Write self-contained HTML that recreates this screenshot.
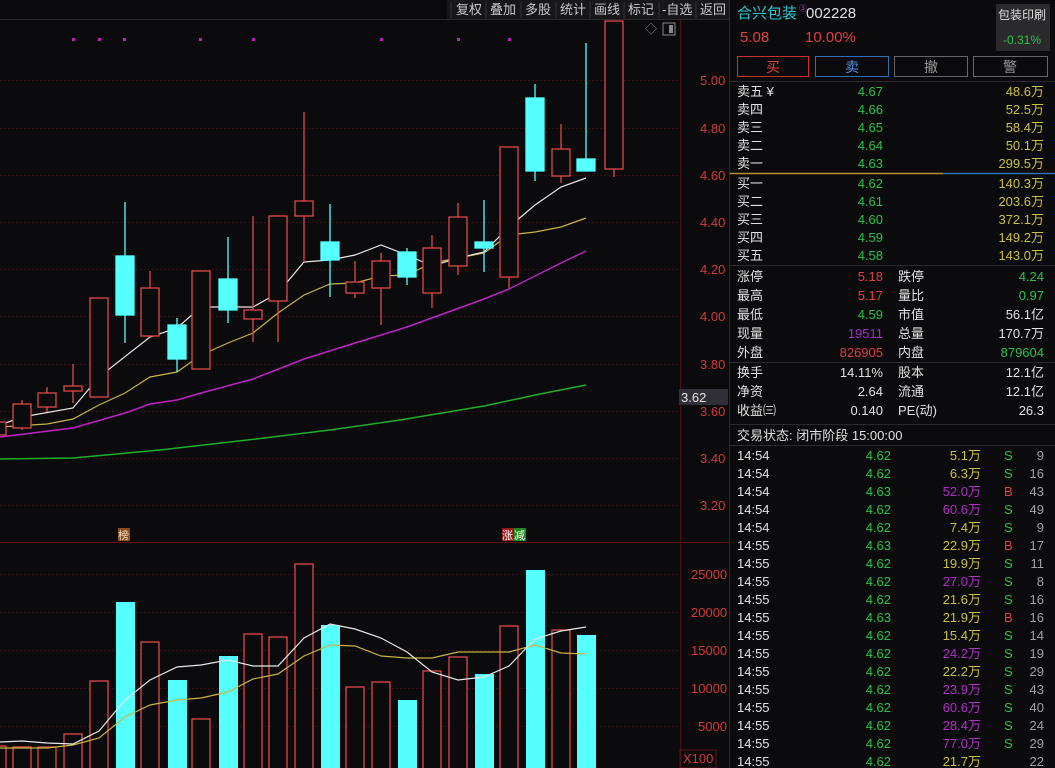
<!DOCTYPE html>
<html><head><meta charset="utf-8"><style>
html,body{margin:0;padding:0;background:#0b0b0d;}
svg{display:block;font-family:"Liberation Sans","Noto Sans CJK SC",sans-serif;}
</style></head><body>
<svg width="1055" height="768" viewBox="0 0 1055 768" xmlns="http://www.w3.org/2000/svg">
<rect width="1055" height="768" fill="#0b0b0d"/>
<!-- toolbar -->
<rect x="447" y="0" width="283" height="19" fill="#17171a"/>
<line x1="0" y1="19.5" x2="730" y2="19.5" stroke="#2a2a2e"/>
<g font-size="13" fill="#c8c8c8">
<text x="456" y="14">复权</text><text x="490" y="14">叠加</text><text x="525" y="14">多股</text><text x="560" y="14">统计</text><text x="594" y="14">画线</text><text x="628" y="14">标记</text><text x="662" y="14">-自选</text><text x="700" y="14">返回</text>
</g>
<g stroke="#333" stroke-width="1"><line x1="451" y1="2" x2="451" y2="18"/><line x1="486" y1="2" x2="486" y2="18"/><line x1="521" y1="2" x2="521" y2="18"/><line x1="556" y1="2" x2="556" y2="18"/><line x1="590" y1="2" x2="590" y2="18"/><line x1="624" y1="2" x2="624" y2="18"/><line x1="659" y1="2" x2="659" y2="18"/><line x1="696" y1="2" x2="696" y2="18"/></g>
<!-- grid -->
<g stroke="#3a0d0f" stroke-width="1" stroke-dasharray="2,2">
<line x1="0" y1="80.5" x2="680" y2="80.5"/><line x1="0" y1="128.5" x2="680" y2="128.5"/><line x1="0" y1="175.5" x2="680" y2="175.5"/><line x1="0" y1="222.5" x2="680" y2="222.5"/><line x1="0" y1="269.5" x2="680" y2="269.5"/><line x1="0" y1="316.5" x2="680" y2="316.5"/><line x1="0" y1="364.5" x2="680" y2="364.5"/><line x1="0" y1="411.5" x2="680" y2="411.5"/><line x1="0" y1="458.5" x2="680" y2="458.5"/><line x1="0" y1="505.5" x2="680" y2="505.5"/>
<line x1="0" y1="574.5" x2="680" y2="574.5"/><line x1="0" y1="612.5" x2="680" y2="612.5"/><line x1="0" y1="650.5" x2="680" y2="650.5"/><line x1="0" y1="688.5" x2="680" y2="688.5"/><line x1="0" y1="726.5" x2="680" y2="726.5"/>
</g>
<line x1="680.5" y1="20" x2="680.5" y2="768" stroke="#4a1215"/>
<line x1="0" y1="542.5" x2="730" y2="542.5" stroke="#5a1518"/>
<line x1="729.5" y1="0" x2="729.5" y2="768" stroke="#2a2a2e"/>
<!-- price labels -->
<g font-size="13" fill="#d23a3a">
<text x="700" y="85">5.00</text><text x="700" y="133">4.80</text><text x="700" y="180">4.60</text><text x="700" y="227">4.40</text><text x="700" y="274">4.20</text><text x="700" y="321">4.00</text><text x="700" y="369">3.80</text><text x="700" y="416">3.60</text><text x="700" y="463">3.40</text><text x="700" y="510">3.20</text>
<text x="691" y="579">25000</text><text x="691" y="617">20000</text><text x="691" y="655">15000</text><text x="691" y="693">10000</text><text x="698" y="731">5000</text><text x="683" y="763">X100</text>
</g>
<rect x="680" y="750" width="36" height="18" fill="none" stroke="#5a1518"/>
<rect x="679" y="389" width="49" height="16" fill="#2f2f35"/>
<text x="681" y="402" font-size="13" fill="#e8e8e8">3.62</text>
<!-- icons -->
<text x="645" y="33" font-size="12" fill="#888">◇</text>
<rect x="663" y="23" width="12" height="12" fill="none" stroke="#888"/><rect x="669" y="25" width="4" height="8" fill="#888"/>
<!-- magenta dots -->
<g fill="#c020c0"><rect x="72" y="38" width="3" height="3"/><rect x="98" y="38" width="3" height="3"/><rect x="123" y="38" width="3" height="3"/><rect x="199" y="38" width="3" height="3"/><rect x="252" y="38" width="3" height="3"/><rect x="380" y="38" width="3" height="3"/><rect x="457" y="38" width="3" height="3"/><rect x="508" y="38" width="3" height="3"/></g>
<!-- MA lines -->
<polyline fill="none" stroke="#1fae2a" stroke-width="1.5" points="0,459 73,458 160,450 256,439 330,430 400,420 484,406 540,394 586,385"/>
<polyline fill="none" stroke="#c020c8" stroke-width="1.5" points="0,437 73,428 125,413 150,404 177,400 201,393 253,379 304,359 355,343 407,327 484,299 509,289 561,263 586,251"/>
<polyline fill="none" stroke="#c8b440" stroke-width="1.2" points="0,427 47,424 73,419 99,405 125,393 150,377 177,372 201,355 228,343 253,333 278,313 304,295 330,284 355,283 381,276 407,275 432,263 458,258 484,253 509,235 535,232 561,227 586,218"/>
<polyline fill="none" stroke="#e8e8e8" stroke-width="1.2" points="0,425 22,417 73,408 99,377 150,337 177,328 201,307 253,307 278,293 304,262 330,260 355,255 381,245 407,255 432,266 458,258 484,252 509,227 535,205 561,187 586,178"/>
<!-- candles -->
<g stroke="#e04848" stroke-width="1.3" fill="#0b0b0d">
<rect x="-6" y="422" width="12" height="13"/>
<line x1="22" y1="400" x2="22" y2="430"/><rect x="13" y="404" width="18" height="24"/>
<line x1="47" y1="387" x2="47" y2="412"/><rect x="38" y="393" width="18" height="14"/>
<line x1="73" y1="364" x2="73" y2="403"/><rect x="64" y="386" width="18" height="5"/>
<rect x="90" y="298" width="18" height="99"/>
<line x1="150" y1="271" x2="150" y2="337"/><rect x="141" y="288" width="18" height="48"/>
<rect x="192" y="271" width="18" height="98"/>
<line x1="253" y1="216" x2="253" y2="342"/><rect x="244" y="310" width="18" height="9"/>
<line x1="278" y1="216" x2="278" y2="342"/><rect x="269" y="216" width="18" height="85"/>
<line x1="304" y1="112" x2="304" y2="262"/><rect x="295" y="201" width="18" height="15"/>
<line x1="355" y1="261" x2="355" y2="298"/><rect x="346" y="282" width="18" height="11"/>
<line x1="381" y1="253" x2="381" y2="325"/><rect x="372" y="261" width="18" height="27"/>
<line x1="432" y1="235" x2="432" y2="308"/><rect x="423" y="248" width="18" height="45"/>
<line x1="458" y1="203" x2="458" y2="275"/><rect x="449" y="217" width="18" height="49"/>
<line x1="509" y1="147" x2="509" y2="288"/><rect x="500" y="147" width="18" height="130"/>
<line x1="561" y1="124" x2="561" y2="183"/><rect x="552" y="149" width="18" height="27"/>
<line x1="614" y1="169" x2="614" y2="177"/><rect x="605" y="21" width="18" height="148"/>
</g>
<g fill="#55ffff" stroke="#55ffff" stroke-width="1.3">
<line x1="125" y1="202" x2="125" y2="343"/><rect x="116" y="256" width="18" height="59"/>
<line x1="177" y1="318" x2="177" y2="372"/><rect x="168" y="325" width="18" height="34"/>
<line x1="228" y1="237" x2="228" y2="323"/><rect x="219" y="279" width="18" height="31"/>
<line x1="330" y1="204" x2="330" y2="297"/><rect x="321" y="242" width="18" height="18"/>
<line x1="407" y1="248" x2="407" y2="285"/><rect x="398" y="252" width="18" height="25"/>
<line x1="484" y1="200" x2="484" y2="272"/><rect x="475" y="242" width="18" height="6"/>
<line x1="535" y1="84" x2="535" y2="181"/><rect x="526" y="98" width="18" height="73"/>
<line x1="586" y1="43" x2="586" y2="171"/><rect x="577" y="159" width="18" height="12"/>
</g>
<!-- tags -->
<rect x="118" y="528" width="12" height="13" fill="#8a4a1a"/><text x="118" y="539" font-size="11" fill="#f0e0c0">榜</text>
<rect x="502" y="528" width="12" height="13" fill="#9a1a1a"/><text x="502" y="539" font-size="11" fill="#fff">涨</text>
<rect x="514" y="528" width="12" height="13" fill="#1a8a1a"/><text x="514" y="539" font-size="11" fill="#fff">减</text>
<!-- volume -->
<g stroke="#e04848" stroke-width="1.3" fill="#0b0b0d">
<rect x="-6" y="746" width="12" height="30"/>
<rect x="13" y="747" width="18" height="30"/>
<rect x="38" y="747" width="18" height="30"/>
<rect x="64" y="734" width="18" height="40"/>
<rect x="90" y="681" width="18" height="90"/>
<rect x="141" y="642" width="18" height="130"/>
<rect x="192" y="719" width="18" height="60"/>
<rect x="244" y="634" width="18" height="140"/>
<rect x="269" y="637" width="18" height="140"/>
<rect x="295" y="564" width="18" height="210"/>
<rect x="346" y="687" width="18" height="90"/>
<rect x="372" y="682" width="18" height="90"/>
<rect x="423" y="671" width="18" height="100"/>
<rect x="449" y="657" width="18" height="120"/>
<rect x="500" y="626" width="18" height="150"/>
<rect x="552" y="630" width="18" height="150"/>
</g>
<g fill="#55ffff">
<rect x="116" y="602" width="19" height="170"/>
<rect x="168" y="680" width="19" height="90"/>
<rect x="219" y="656" width="19" height="120"/>
<rect x="321" y="625" width="19" height="150"/>
<rect x="398" y="700" width="19" height="70"/>
<rect x="475" y="674" width="19" height="100"/>
<rect x="526" y="570" width="19" height="200"/>
<rect x="577" y="635" width="19" height="140"/>
</g>
<polyline fill="none" stroke="#c8b440" stroke-width="1.2" points="0,748 47,748 73,745 99,738 125,717 150,705 177,700 201,698 228,692 253,679 278,674 304,656 330,645 355,646 381,656 407,658 432,658 458,652 484,652 509,652 535,645 561,653 586,654"/>
<polyline fill="none" stroke="#e8e8e8" stroke-width="1.2" points="0,742 22,741 47,743 73,744 99,731 125,700 150,680 177,667 201,665 228,660 253,666 278,666 304,638 330,624 355,629 381,638 407,652 432,672 458,680 484,677 509,666 535,639 561,631 586,627"/>
<!-- right panel -->
<text x="737" y="18" font-size="15" fill="#2ec8d0">合兴包装</text>
<text x="799" y="11" font-size="8" fill="#a040d0">③</text>
<text x="806" y="18" font-size="15" fill="#e0e0e0">002228</text>
<text x="740" y="42" font-size="15" fill="#e04040">5.08</text>
<text x="805" y="42" font-size="15" fill="#e04040">10.00%</text>
<rect x="996" y="4" width="54" height="47" fill="#2a2a2c"/>
<text x="998" y="19" font-size="12" fill="#e0e0e0">包装印刷</text>
<text x="1003" y="44" font-size="12" fill="#2ec04a">-0.31%</text>
<rect x="737.5" y="56.5" width="71" height="20" fill="none" stroke="#c83030"/><text x="766" y="72" font-size="14" fill="#e04040">买</text>
<rect x="815.5" y="56.5" width="73" height="20" fill="none" stroke="#3070b0"/><text x="845" y="72" font-size="14" fill="#4a90e0">卖</text>
<rect x="894.5" y="56.5" width="73" height="20" fill="none" stroke="#666"/><text x="924" y="72" font-size="14" fill="#999">撤</text>
<rect x="973.5" y="56.5" width="74" height="20" fill="none" stroke="#666"/><text x="1003" y="72" font-size="14" fill="#999">警</text>
<line x1="730" y1="81.5" x2="1055" y2="81.5" stroke="#2a2a2e"/>
<line x1="730" y1="173.5" x2="943" y2="173.5" stroke="#b89030" stroke-width="1.5"/>
<line x1="943" y1="173.5" x2="1055" y2="173.5" stroke="#3070b0" stroke-width="1.5"/>
<line x1="730" y1="265.5" x2="1055" y2="265.5" stroke="#2a2a2e"/>
<line x1="730" y1="362.5" x2="1055" y2="362.5" stroke="#2a2a2e"/>
<line x1="730" y1="424.5" x2="1055" y2="424.5" stroke="#2a2a2e"/>
<line x1="730" y1="445.5" x2="1055" y2="445.5" stroke="#2a2a2e"/>
<g font-size="13">
<g fill="#e0e0e0"><text x="737" y="96">卖五 ¥</text><text x="737" y="114">卖四</text><text x="737" y="132">卖三</text><text x="737" y="150">卖二</text><text x="737" y="168">卖一</text>
<text x="737" y="188">买一</text><text x="737" y="206">买二</text><text x="737" y="224">买三</text><text x="737" y="242">买四</text><text x="737" y="260">买五</text></g>
<g fill="#2ec04a" text-anchor="end"><text x="883" y="96">4.67</text><text x="883" y="114">4.66</text><text x="883" y="132">4.65</text><text x="883" y="150">4.64</text><text x="883" y="168">4.63</text>
<text x="883" y="188">4.62</text><text x="883" y="206">4.61</text><text x="883" y="224">4.60</text><text x="883" y="242">4.59</text><text x="883" y="260">4.58</text></g>
<g fill="#c8c040" text-anchor="end"><text x="1044" y="96">48.6万</text><text x="1044" y="114">52.5万</text><text x="1044" y="132">58.4万</text><text x="1044" y="150">50.1万</text><text x="1044" y="168">299.5万</text>
<text x="1044" y="188">140.3万</text><text x="1044" y="206">203.6万</text><text x="1044" y="224">372.1万</text><text x="1044" y="242">149.2万</text><text x="1044" y="260">143.0万</text></g>
<g fill="#e0e0e0"><text x="737" y="281">涨停</text><text x="737" y="300">最高</text><text x="737" y="319">最低</text><text x="737" y="338">现量</text><text x="737" y="357">外盘</text>
<text x="898" y="281">跌停</text><text x="898" y="300">量比</text><text x="898" y="319">市值</text><text x="898" y="338">总量</text><text x="898" y="357">内盘</text>
<text x="737" y="377">换手</text><text x="737" y="396">净资</text><text x="737" y="415">收益㈢</text><text x="898" y="377">股本</text><text x="898" y="396">流通</text><text x="898" y="415">PE(动)</text>
<text x="737" y="440">交易状态: 闭市阶段 15:00:00</text></g>
<g text-anchor="end"><text x="883" y="281" fill="#e04040">5.18</text><text x="883" y="300" fill="#e04040">5.17</text><text x="883" y="319" fill="#2ec04a">4.59</text><text x="883" y="338" fill="#a030c0">19511</text><text x="883" y="357" fill="#e04040">826905</text>
<text x="1044" y="281" fill="#2ec04a">4.24</text><text x="1044" y="300" fill="#2ec04a">0.97</text><text x="1044" y="319" fill="#e0e0e0">56.1亿</text><text x="1044" y="338" fill="#e0e0e0">170.7万</text><text x="1044" y="357" fill="#2ec04a">879604</text>
<g fill="#e0e0e0"><text x="883" y="377">14.11%</text><text x="883" y="396">2.64</text><text x="883" y="415">0.140</text><text x="1044" y="377">12.1亿</text><text x="1044" y="396">12.1亿</text><text x="1044" y="415">26.3</text></g></g>
</g>
<g font-size="13" id="trades">
<g fill="#e0e0e0"><text x="737" y="460">14:54</text><text x="737" y="478">14:54</text><text x="737" y="496">14:54</text><text x="737" y="514">14:54</text><text x="737" y="532">14:54</text><text x="737" y="550">14:55</text><text x="737" y="568">14:55</text><text x="737" y="586">14:55</text><text x="737" y="604">14:55</text><text x="737" y="622">14:55</text><text x="737" y="640">14:55</text><text x="737" y="658">14:55</text><text x="737" y="676">14:55</text><text x="737" y="694">14:55</text><text x="737" y="712">14:55</text><text x="737" y="730">14:55</text><text x="737" y="748">14:55</text><text x="737" y="766">14:55</text></g>
<g fill="#2ec04a" text-anchor="end"><text x="891" y="460">4.62</text><text x="891" y="478">4.62</text><text x="891" y="496">4.63</text><text x="891" y="514">4.62</text><text x="891" y="532">4.62</text><text x="891" y="550">4.63</text><text x="891" y="568">4.62</text><text x="891" y="586">4.62</text><text x="891" y="604">4.62</text><text x="891" y="622">4.63</text><text x="891" y="640">4.62</text><text x="891" y="658">4.62</text><text x="891" y="676">4.62</text><text x="891" y="694">4.62</text><text x="891" y="712">4.62</text><text x="891" y="730">4.62</text><text x="891" y="748">4.62</text><text x="891" y="766">4.62</text></g>
<g text-anchor="end"><text x="981" y="460" fill="#c8c040">5.1万</text><text x="981" y="478" fill="#c8c040">6.3万</text><text x="981" y="496" fill="#b030c8">52.0万</text><text x="981" y="514" fill="#b030c8">60.6万</text><text x="981" y="532" fill="#c8c040">7.4万</text><text x="981" y="550" fill="#c8c040">22.9万</text><text x="981" y="568" fill="#c8c040">19.9万</text><text x="981" y="586" fill="#b030c8">27.0万</text><text x="981" y="604" fill="#c8c040">21.6万</text><text x="981" y="622" fill="#c8c040">21.9万</text><text x="981" y="640" fill="#c8c040">15.4万</text><text x="981" y="658" fill="#b030c8">24.2万</text><text x="981" y="676" fill="#c8c040">22.2万</text><text x="981" y="694" fill="#b030c8">23.9万</text><text x="981" y="712" fill="#b030c8">60.6万</text><text x="981" y="730" fill="#b030c8">28.4万</text><text x="981" y="748" fill="#b030c8">77.0万</text><text x="981" y="766" fill="#c8c040">21.7万</text></g>
<g fill="#2ec04a"><text x="1004" y="460">S</text><text x="1004" y="478">S</text><text x="1004" y="496" fill="#e04040">B</text><text x="1004" y="514">S</text><text x="1004" y="532">S</text><text x="1004" y="550" fill="#e04040">B</text><text x="1004" y="568">S</text><text x="1004" y="586">S</text><text x="1004" y="604">S</text><text x="1004" y="622" fill="#e04040">B</text><text x="1004" y="640">S</text><text x="1004" y="658">S</text><text x="1004" y="676">S</text><text x="1004" y="694">S</text><text x="1004" y="712">S</text><text x="1004" y="730">S</text><text x="1004" y="748">S</text></g>
<g fill="#a0a0a0" text-anchor="end"><text x="1044" y="460">9</text><text x="1044" y="478">16</text><text x="1044" y="496">43</text><text x="1044" y="514">49</text><text x="1044" y="532">9</text><text x="1044" y="550">17</text><text x="1044" y="568">11</text><text x="1044" y="586">8</text><text x="1044" y="604">16</text><text x="1044" y="622">16</text><text x="1044" y="640">14</text><text x="1044" y="658">19</text><text x="1044" y="676">29</text><text x="1044" y="694">43</text><text x="1044" y="712">40</text><text x="1044" y="730">24</text><text x="1044" y="748">29</text><text x="1044" y="766">22</text></g>
</g>
</svg>
</body></html>
